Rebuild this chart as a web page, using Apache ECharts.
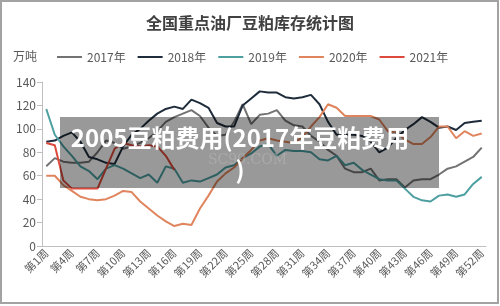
<!DOCTYPE html>
<html>
<head>
<meta charset="utf-8">
<script src="https://cdn.jsdelivr.net/npm/echarts@6/dist/echarts.min.js"></script>
<style>
  html, body { margin: 0; padding: 0; background: #fff; }
  #chart { width: 500px; height: 306px; }
</style>
</head>
<body>
<div id="chart"></div>
<script>
//周次
var weeks = [];
for (var i = 1; i <= 52; i++) {
    weeks.push('第' + i + '周');
}

//各年库存(万吨)
var d2017 = [68,75,72,71,71,72,80,90,88,83,85,88,92,98,106,110,113,116,111,101,94,95,106,121,104,112,113,116,107,103,102,94,89,82,77,66,63,63,66,56,57,57,50,56,57,57,61,66,68,72,76,84];
var d2018 = [89,90,94,97,89,76,74,71,70,85,95,100,107,113,117,119,117,125,122,118,105,102,102,120,126,132,131,131,127,126,127,129,121,106,95,95,95,94,89,80,84,92,99,104,110,106,101,102,99,105,106,107];
var d2019 = [117,95,85,77,68,64,57,66,69,66,62,58,61,54,68,66,54,56,55,58,61,67,69,75,79,85,87,77,82,81,81,80,74,73,77,69,71,65,61,57,56,56,49,42,39,38,43,44,42,44,53,59];
var d2020 = [60,60,52,47,42,40,39,40,43,47,46,38,32,26,21,17,19,18,32,43,55,62,67,75,82,90,92,90,89,88,93,102,110,121,118,111,111,111,111,108,98,97,91,87,87,93,102,102,92,98,94,96];
var d2021 = [88,86,56,49,49,49,49,66,83,88,86,85,86,85,77,65];

var yearNames = ['2017年', '2018年', '2019年', '2020年', '2021年'];
var yearColors = ['#737373', '#1e2c3b', '#4e9fa0', '#e0845e', '#db4a3c'];
var yTicks = { min: 0, max: 140, step: 20 };

var font = 'Noto Sans CJK SC';

function makeSeries(name, data, color) {
    return {
        name: name,
        type: 'line',
        data: data,
        symbol: 'none',
        smooth: false,
        z: 2,
        lineStyle: { color: color, width: 2 },
        itemStyle: { color: color }
    };
}

var seriesList = [];
[d2017, d2018, d2019, d2020, d2021].forEach(function (arr, idx) {
    seriesList.push(makeSeries(yearNames[idx], arr, yearColors[idx]));
});

var chart = echarts.init(document.getElementById('chart'));
chart.setOption({
    backgroundColor: '#fff',
    animation: false,
    textStyle: { fontFamily: font },
    title: {
        text: '全国重点油厂豆粕库存统计图',
        left: 'center',
        top: 10,
        textStyle: { fontSize: 16, fontWeight: 'bold', color: '#404040', fontFamily: font }
    },
    legend: {
        top: 46,
        left: 52,
        icon: 'rect',
        itemWidth: 25,
        itemHeight: 2,
        itemGap: 12,
        data: yearNames,
        textStyle: { fontSize: 12, color: '#595959', fontFamily: font }
    },
    grid: { left: 42, right: 14, top: 82, bottom: 60 },
    xAxis: {
        type: 'category',
        data: weeks,
        boundaryGap: true,
        axisLine: { lineStyle: { color: '#bfbfbf' } },
        axisTick: { interval: 3, length: 5, lineStyle: { color: '#bfbfbf' } },
        axisLabel: { interval: 2, rotate: 45, fontSize: 11, color: '#595959', margin: 5, fontFamily: font }
    },
    yAxis: {
        type: 'value',
        min: yTicks.min,
        max: yTicks.max,
        interval: yTicks.step,
        axisLine: { show: true, lineStyle: { color: '#bfbfbf' } },
        axisTick: { show: true, length: 5, lineStyle: { color: '#bfbfbf' } },
        splitLine: { show: false },
        axisLabel: { fontSize: 12, color: '#595959', margin: 6, fontFamily: font }
    },
    graphic: [
        //外框
        {
            type: 'rect',
            shape: { x: 1, y: 1, width: 497, height: 302 },
            style: { fill: 'none', stroke: '#a3a3a3', lineWidth: 2 },
            silent: true
        },
        //单位
        {
            type: 'text',
            left: 13,
            top: 50,
            style: { text: '万吨', fontSize: 12, fill: '#595959', fontFamily: font }
        },
        //遮罩层
        {
            type: 'rect',
            z: 20,
            shape: { x: 60, y: 117, width: 379, height: 71 },
            style: { fill: 'rgba(0,0,0,0.4)' },
            silent: true
        },
        {
            type: 'text',
            z: 21,
            x: 208,
            y: 160,
            style: {
                text: 'SC99.COM',
                fontSize: 14,
                fontFamily: 'DejaVu Serif',
                fill: 'rgba(200,200,200,0.35)',
                textAlign: 'left',
                textVerticalAlign: 'middle'
            },
            silent: true
        },
        {
            type: 'text',
            z: 22,
            x: 240,
            y: 154,
            style: {
                text: '2005豆粕费用(2017年豆粕费用\n)',
                fontSize: 24,
                fontWeight: 'bold',
                lineHeight: 32,
                fontFamily: font,
                fill: '#fff',
                textAlign: 'center',
                textVerticalAlign: 'middle'
            },
            silent: true
        }
    ],
    series: seriesList
});
</script>
</body>
</html>
